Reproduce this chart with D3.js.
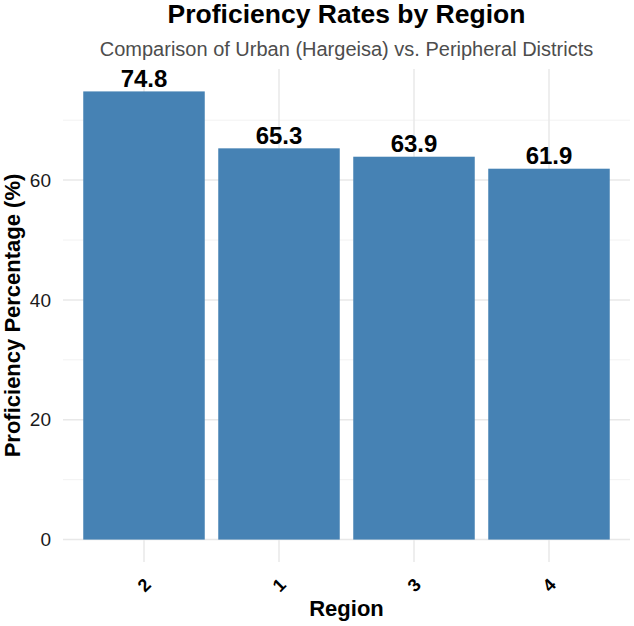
<!DOCTYPE html>
<html>
<head>
<meta charset="utf-8">
<script src="https://cdn.jsdelivr.net/npm/d3@7"></script>
<style>
  body { margin: 0; background: #fff; }
  text { font-family: "Liberation Sans", Arial, sans-serif; }
</style>
</head>
<body>
<div id="chart"></div>
<script>
// data
var regions = ["2", "1", "3", "4"];
var rates = [74.8, 65.3, 63.9, 61.9];
var yTicks = [0, 20, 40, 60];
var yMinor = [10, 30, 50, 70];

var width = 634, height = 626;
var panel = {left: 63, right: 630, top: 69, bottom: 562};

var svg = d3.select("#chart")
  .append("svg")
    .attr("width", width)
    .attr("height", height);

// ggplot style expansion: 5% on continuous, 0.6 on discrete
var yMax = d3.max(rates);
var y = d3.scaleLinear()
  .domain([-0.05 * yMax, yMax * 1.05])
  .range([panel.bottom, panel.top]);

var x = d3.scaleBand()
  .domain(regions)
  .range([panel.left, panel.right])
  .paddingInner(0.1)
  .paddingOuter(0.15);

// grid lines
svg.selectAll(".minor")
    .data(yMinor)
  .enter()
    .append("line")
    .attr("x1", panel.left)
    .attr("x2", panel.right)
    .attr("y1", function(d) { return y(d); })
    .attr("y2", function(d) { return y(d); })
    .attr("stroke", "#f2f2f2")
    .attr("stroke-width", 1);

svg.selectAll(".major")
    .data(yTicks)
  .enter()
    .append("line")
    .attr("x1", panel.left)
    .attr("x2", panel.right)
    .attr("y1", function(d) { return y(d); })
    .attr("y2", function(d) { return y(d); })
    .attr("stroke", "#e8e8e8")
    .attr("stroke-width", 1.5);

svg.selectAll(".vgrid")
    .data(regions)
  .enter()
    .append("line")
    .attr("x1", function(d) { return x(d) + x.bandwidth() / 2; })
    .attr("x2", function(d) { return x(d) + x.bandwidth() / 2; })
    .attr("y1", panel.top)
    .attr("y2", panel.bottom)
    .attr("stroke", "#e8e8e8")
    .attr("stroke-width", 1.5);

// bars
svg.selectAll(".bar")
    .data(rates)
  .enter()
    .append("rect")
    .attr("x", function(d, i) { return x(regions[i]); })
    .attr("y", function(d) { return y(d); })
    .attr("width", x.bandwidth())
    .attr("height", function(d) { return y(0) - y(d); })
    .attr("fill", "#4682b4");

// value labels
svg.selectAll(".val")
    .data(rates)
  .enter()
    .append("text")
    .attr("x", function(d, i) { return x(regions[i]) + x.bandwidth() / 2; })
    .attr("y", function(d) { return y(d) - 4.5; })
    .attr("text-anchor", "middle")
    .attr("font-size", "24px")
    .attr("font-weight", "bold")
    .attr("fill", "#000")
    .text(function(d) { return d.toFixed(1); });

// y tick labels
svg.selectAll(".ytick")
    .data(yTicks)
  .enter()
    .append("text")
    .attr("x", 51)
    .attr("y", function(d) { return y(d); })
    .attr("dy", "0.35em")
    .attr("text-anchor", "end")
    .attr("font-size", "19px")
    .attr("fill", "#1a1a1a")
    .text(function(d) { return d; });

// x tick labels, rotated 45 degrees counter-clockwise
svg.selectAll(".xtick")
    .data(regions)
  .enter()
    .append("text")
    .attr("transform", function(d) {
      return "translate(" + (x(d) + x.bandwidth() / 2) + ",585) rotate(-45)";
    })
    .attr("dy", "0.35em")
    .attr("text-anchor", "middle")
    .attr("font-size", "18px")
    .attr("font-weight", "bold")
    .attr("fill", "#000")
    .text(function(d) { return d; });

// axis titles
svg.append("text")
    .attr("x", (panel.left + panel.right) / 2)
    .attr("y", 616)
    .attr("text-anchor", "middle")
    .attr("font-size", "22px")
    .attr("font-weight", "bold")
    .attr("fill", "#000")
    .text("Region");

svg.append("text")
    .attr("transform", "translate(20," + ((panel.top + panel.bottom) / 2) + ") rotate(-90)")
    .attr("text-anchor", "middle")
    .attr("font-size", "22px")
    .attr("font-weight", "bold")
    .attr("fill", "#000")
    .text("Proficiency Percentage (%)");

// title + subtitle
svg.append("text")
    .attr("x", (panel.left + panel.right) / 2)
    .attr("y", 23)
    .attr("text-anchor", "middle")
    .attr("font-size", "26.5px")
    .attr("font-weight", "bold")
    .attr("fill", "#000")
    .text("Proficiency Rates by Region");

svg.append("text")
    .attr("x", (panel.left + panel.right) / 2)
    .attr("y", 56)
    .attr("text-anchor", "middle")
    .attr("font-size", "20px")
    .attr("fill", "#4d4d4d")
    .text("Comparison of Urban (Hargeisa) vs. Peripheral Districts");
</script>
</body>
</html>
